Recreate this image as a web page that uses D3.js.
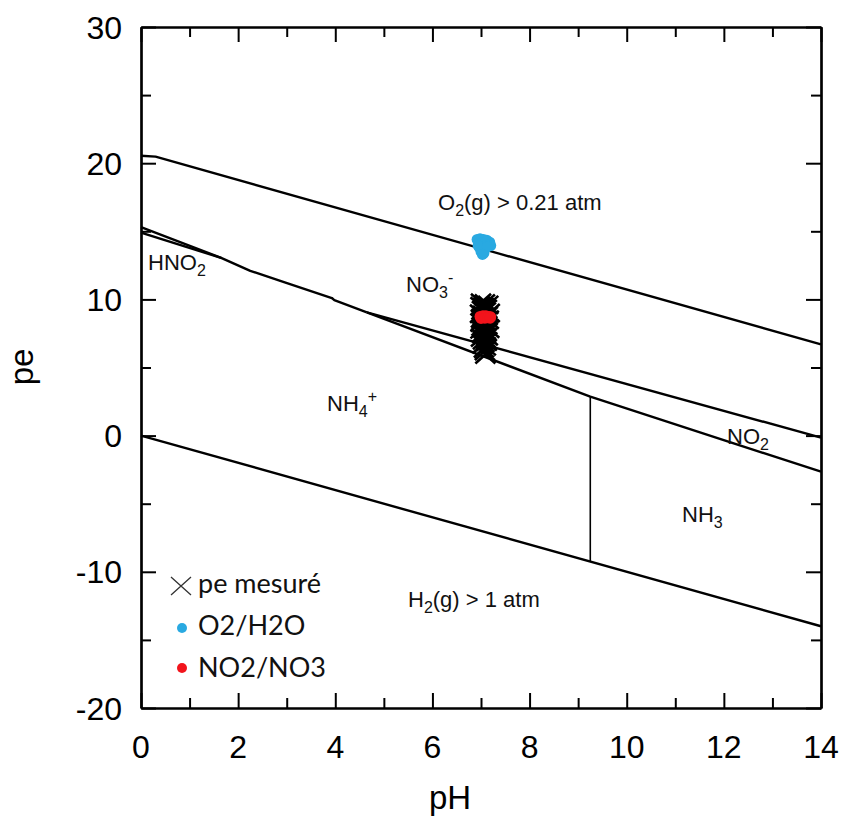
<!DOCTYPE html>
<html><head><meta charset="utf-8">
<script src="https://cdn.jsdelivr.net/npm/d3@7"></script>
<style>body{margin:0;background:#fff}</style>
</head><body>
<svg id="c" width="844" height="818"></svg>
<script>
// ---- data ----
const xTicksMajor = [0, 2, 4, 6, 8, 10, 12, 14];
const xTicksMinor = [1, 3, 5, 7, 9, 11, 13];
const yTicksMajor = [-20, -10, 0, 10, 20, 30];
const yTicksMinor = [-15, -5, 5, 15, 25];

// boundary lines [pH, pe]
const lineO2 = [[0, 20.55], [0.3, 20.48], [14, 6.7]];
const lineH2 = [[0, 0], [14, -14]];
const lineNO3NH4 = [[0, 15.3], [1.65, 13.05], [2.25, 12.1], [2.96, 11.25], [3.93, 10.1], [3.98, 9.95], [4.65, 9.05]];
const lineHNO2 = [[0, 14.9], [1.65, 13.05]];
const lineNO3NO2 = [[4.65, 9.05], [14, -0.15]];
const lineNO2NH = [[4.65, 9.05], [9.25, 2.86], [14, -2.65]];
const lineNH4NH3 = [[9.25, 2.86], [9.25, -9.25]];

// measured pe (X markers)
const mesPH = [7.00, 7.08, 7.15, 6.99, 7.05, 7.12, 7.02, 7.10, 7.18, 6.98, 7.04, 7.14, 7.07, 7.00, 7.16, 7.03, 7.11, 6.99, 7.09, 7.13,
               7.01, 7.06, 7.17, 6.99, 7.08, 7.12, 7.02, 7.10, 7.05, 7.14, 7.00, 7.09, 7.04, 7.12, 7.07, 7.03, 7.10, 7.06, 7.08, 7.09];
const mesPE = [9.75, 9.7, 9.6, 9.5, 9.45, 9.3, 9.2, 9.1, 9.0, 8.95, 8.85, 8.8, 8.7, 8.6, 8.5, 8.45, 8.35, 8.3, 8.2, 8.1,
               8.0, 7.9, 7.85, 7.8, 7.7, 7.6, 7.5, 7.45, 7.35, 7.3, 7.2, 7.1, 7.0, 6.9, 6.8, 6.7, 6.55, 6.4, 6.2, 5.95];
// O2/H2O
const o2PH = [6.92, 6.98, 7.05, 7.12, 7.18, 6.95, 7.02, 7.10, 7.16, 6.97, 7.04, 7.08, 7.00, 7.06, 7.20, 6.94, 7.13, 7.03];
const o2PE = [14.4, 14.45, 14.4, 14.35, 14.2, 14.1, 14.15, 14.2, 14.0, 13.8, 13.9, 13.7, 13.5, 13.4, 13.95, 13.95, 13.85, 13.3];
// NO2/NO3
const noPH = [6.98, 7.04, 7.10, 7.16, 7.20, 7.00, 7.08, 7.14, 7.19];
const noPE = [8.75, 8.8, 8.8, 8.75, 8.72, 8.6, 8.62, 8.65, 8.62];

// ---- layout ----
const svg = d3.select('#c');
svg.append('rect').attr('width', 844).attr('height', 818).attr('fill', '#fff');
const x = d3.scaleLinear().domain([0, 14]).range([141, 821]);
const y = d3.scaleLinear().domain([-20, 30]).range([708, 27]);
const FONT = "'Liberation Sans', Arial, Helvetica, sans-serif";

const g = svg.append('g');
const line = d3.line().x(d => x(d[0])).y(d => y(d[1]));
[lineO2, lineH2, lineNO3NH4, lineHNO2, lineNO3NO2, lineNO2NH].forEach(L => {
  g.append('path').attr('d', line(L)).attr('fill', 'none').attr('stroke', '#000')
   .attr('stroke-width', 2.4).attr('stroke-linejoin', 'round');
});
g.append('path').attr('d', line(lineNH4NH3)).attr('fill', 'none').attr('stroke', '#000').attr('stroke-width', 1.6);

// axes (ticks inward on all sides)
const axB = d3.axisBottom(x).tickValues(xTicksMajor).tickSizeInner(-15).tickSizeOuter(0).tickFormat('');
const axBm = d3.axisBottom(x).tickValues(xTicksMinor).tickSizeInner(-10).tickSizeOuter(0).tickFormat('');
const axT = d3.axisTop(x).tickValues(xTicksMajor).tickSizeInner(-15).tickSizeOuter(0).tickFormat('');
const axTm = d3.axisTop(x).tickValues(xTicksMinor).tickSizeInner(-10).tickSizeOuter(0).tickFormat('');
const axL = d3.axisLeft(y).tickValues(yTicksMajor).tickSizeInner(-15).tickSizeOuter(0).tickFormat('');
const axLm = d3.axisLeft(y).tickValues(yTicksMinor).tickSizeInner(-10).tickSizeOuter(0).tickFormat('');
const axR = d3.axisRight(y).tickValues(yTicksMajor).tickSizeInner(-15).tickSizeOuter(0).tickFormat('');
const axRm = d3.axisRight(y).tickValues(yTicksMinor).tickSizeInner(-10).tickSizeOuter(0).tickFormat('');
function put(ax, tr) {
  const a = svg.append('g').attr('transform', tr).call(ax);
  a.selectAll('path.domain').attr('stroke', '#000').attr('stroke-width', 2.2);
  a.selectAll('.tick line').attr('stroke', '#000').attr('stroke-width', 2);
}
put(axB, 'translate(0,708)'); put(axBm, 'translate(0,708)');
put(axT, 'translate(0,27)'); put(axTm, 'translate(0,27)');
put(axL, 'translate(141,0)'); put(axLm, 'translate(141,0)');
put(axR, 'translate(821,0)'); put(axRm, 'translate(821,0)');

// tick labels
svg.append('g').selectAll('text').data(xTicksMajor).join('text')
  .attr('x', d => x(d)).attr('y', 758).attr('text-anchor', 'middle')
  .attr('font-family', FONT).attr('font-size', 32).text(d => d);
svg.append('g').selectAll('text').data(yTicksMajor).join('text')
  .attr('x', 122).attr('y', d => y(d) + 11.5).attr('text-anchor', 'end')
  .attr('font-family', FONT).attr('font-size', 32).text(d => d);

// axis titles
svg.append('text').attr('x', 450).attr('y', 809).attr('text-anchor', 'middle')
  .attr('font-family', FONT).attr('font-size', 33).text('pH');
svg.append('text').attr('transform', 'translate(33,367) rotate(-90)').attr('text-anchor', 'middle')
  .attr('font-family', FONT).attr('font-size', 33).text('pe');

// data markers
const mes = mesPH.map((p, i) => [p, mesPE[i]]);
const hx = 10, hy = 9;
g.append('path').attr('d', mes.map(d => {
  const cx = x(d[0]), cy = y(d[1]);
  return `M${cx - hx},${cy - hy}L${cx + hx},${cy + hy}M${cx - hx},${cy + hy}L${cx + hx},${cy - hy}`;
}).join('')).attr('stroke', '#000').attr('stroke-width', 2.6).attr('fill', 'none');

g.append('g').selectAll('circle').data(o2PH.map((p, i) => [p, o2PE[i]])).join('circle')
  .attr('cx', d => x(d[0])).attr('cy', d => y(d[1])).attr('r', 5.5).attr('fill', '#29a9e1');
g.append('g').selectAll('circle').data(noPH.map((p, i) => [p, noPE[i]])).join('circle')
  .attr('cx', d => x(d[0])).attr('cy', d => y(d[1])).attr('r', 5.5).attr('fill', '#f2141c');

// region labels
function label(xp, yp, parts) {
  const t = svg.append('text').attr('x', xp).attr('y', yp).attr('font-family', FONT).attr('font-size', 22).attr('fill', '#111');
  let shift = 0;
  parts.forEach(([s, mode]) => {
    const ts = t.append('tspan').text(s);
    let target = mode === 'sub' ? 6 : mode === 'sup' ? -9 : 0;
    ts.attr('dy', target - shift); shift = target;
    if (mode) ts.attr('font-size', 16);
  });
}
label(438, 210, [['O'], ['2', 'sub'], ['(g) > 0.21 atm']]);
label(406, 292, [['NO'], ['3', 'sub'], ['-', 'sup']]);
label(148, 270, [['HNO'], ['2', 'sub']]);
label(327, 411, [['NH'], ['4', 'sub'], ['+', 'sup']]);
label(727, 444, [['NO'], ['2', 'sub']]);
label(682, 522, [['NH'], ['3', 'sub']]);
label(408, 607, [['H'], ['2', 'sub'], ['(g) > 1 atm']]);

// legend
const LF = "Lato, 'Open Sans', 'Noto Sans', sans-serif";
const lx = 181, ly = 586;
svg.append('path').attr('d', `M${lx - 10},${ly - 9}L${lx + 10},${ly + 9}M${lx - 10},${ly + 9}L${lx + 10},${ly - 9}`)
  .attr('stroke', '#333').attr('stroke-width', 1.3).attr('fill', 'none');
svg.append('circle').attr('cx', 182).attr('cy', 628).attr('r', 5).attr('fill', '#29a9e1');
svg.append('circle').attr('cx', 182).attr('cy', 668).attr('r', 5).attr('fill', '#f2141c');
const legTexts = ['pe mesuré', 'O2/H2O', 'NO2/NO3'];
svg.append('g').selectAll('text').data(legTexts).join('text')
  .attr('x', 198).attr('y', (d, i) => 593 + i * 42)
  .attr('font-family', LF).attr('font-size', 27).attr('fill', '#111').text(d => d);
</script>
</body></html>
